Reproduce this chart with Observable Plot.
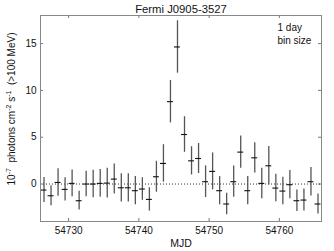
<!DOCTYPE html>
<html>
<head>
<meta charset="utf-8">
<script src="https://cdn.jsdelivr.net/npm/d3@7"></script>
<script src="https://cdn.jsdelivr.net/npm/@observablehq/plot@0.6"></script>
<style>
  html, body { margin: 0; padding: 0; background: #fff; }
  #chart svg { display: block; }
</style>
</head>
<body>
<div id="chart"></div>
<script>
const mjd = [54726.5, 54727.5, 54728.5, 54729.5, 54730.5, 54731.5, 54732.5, 54733.5, 54734.5, 54735.5,
             54736.5, 54737.5, 54738.5, 54739.5, 54740.5, 54741.5, 54742.5, 54743.5, 54744.5, 54745.5,
             54746.5, 54747.5, 54748.5, 54749.5, 54750.5, 54751.5, 54752.5, 54753.5, 54754.5, 54755.5,
             54756.5, 54757.5, 54758.5, 54759.5, 54760.5, 54761.5, 54762.5, 54763.5, 54764.5, 54765.5];
const flux = [-0.64, -1.25, 0.17, -0.57, 0.07, -1.78, 0.0, 0.0, 0.07, 0.1,
              0.53, -0.4, -0.4, -0.71, -0.53, -1.64, 0.78, 2.2, 8.8, 14.64,
              5.29, 2.48, 2.73, 0.25, 1.35, -0.71, -2.13, 0.25, 3.41, -0.71,
              2.8, 0.07, 1.95, -0.43, -0.75, -0.07, -1.78, -1.71, 0.25, -2.13];
const fluxErr = [1.33, 1.07, 1.47, 1.24, 1.42, 1.0, 1.37, 1.47, 1.49, 1.58,
                 1.6, 1.51, 1.51, 1.51, 1.2, 1.24, 1.65, 2.0, 2.27, 2.8,
                 1.9, 1.51, 1.6, 1.69, 1.97, 1.51, 1.15, 1.67, 1.72, 1.51,
                 1.62, 1.63, 2.06, 1.47, 1.47, 1.51, 1.15, 1.17, 1.53, 1.07];
const xTicks = [54730, 54740, 54750, 54760];
const yTicks = [0, 5, 10, 15];
const binHalf = 0.42;

const data = mjd.map((m, i) => ({mjd: m, flux: flux[i], err: fluxErr[i]}));

const W = 334, H = 251, mL = 40, mR = 13, mT = 15, mB = 30;
const frameH = H - mT - mB, frameW = W - mL - mR;
const tk = 3;
const font = "'Liberation Sans', Arial, Helvetica, sans-serif";

const plot = Plot.plot({
  width: W, height: H,
  marginLeft: mL, marginRight: mR, marginTop: mT, marginBottom: mB,
  style: {fontFamily: font, fontSize: "10px", color: "#111", background: "#fff"},
  x: {domain: [54726, 54766], ticks: xTicks, tickFormat: d => String(d)},
  y: {domain: [-4, 18], ticks: yTicks},
  marks: [
    Plot.axisX({ticks: xTicks, tickSize: 0, tickPadding: 5, label: null, tickFormat: d => String(d), fontSize: 10}),
    Plot.axisY({ticks: yTicks, tickSize: 0, tickPadding: 4, label: null, fontSize: 10}),
    // inward ticks on all four sides
    Plot.ruleX(xTicks, {x: d => d, insetTop: frameH - tk, stroke: "#777"}),
    Plot.ruleX(xTicks, {x: d => d, insetBottom: frameH - tk, stroke: "#777"}),
    Plot.ruleY(yTicks, {y: d => d, insetRight: frameW - tk, stroke: "#777"}),
    Plot.ruleY(yTicks, {y: d => d, insetLeft: frameW - tk, stroke: "#777"}),
    Plot.ruleY([0], {stroke: "#333", strokeDasharray: "1,2", strokeWidth: 1}),
    Plot.ruleX(data, {x: "mjd", y1: d => d.flux - d.err, y2: d => d.flux + d.err, stroke: "#555", strokeWidth: 1.3}),
    Plot.ruleY(data, {y: "flux", x1: d => d.mjd - binHalf, x2: d => d.mjd + binHalf, stroke: "#111", strokeWidth: 1.1}),
    Plot.frame({stroke: "#888", strokeWidth: 1}),
    Plot.text(["Fermi J0905-3527"], {frameAnchor: "top", dy: -6.5, lineAnchor: "middle", fontSize: 11.3, fill: "#111"}),
    Plot.text(["MJD"], {frameAnchor: "bottom", dy: 22, lineAnchor: "middle", fontSize: 10.5, fill: "#111"}),
    Plot.text(["1 day\nbin size"], {frameAnchor: "top-right", dx: -44, dy: 7, textAnchor: "start", lineAnchor: "top", lineHeight: 1.25, fontSize: 10, fill: "#111"})
  ]
});

document.getElementById("chart").appendChild(plot);

// y-axis label with superscripts
const svg = d3.select(plot);
const yl = svg.append("text")
  .attr("transform", "translate(15,109) rotate(-90)")
  .attr("text-anchor", "middle")
  .attr("font-family", font)
  .attr("font-size", 10)
  .attr("fill", "#111");
yl.append("tspan").text("10");
yl.append("tspan").attr("dy", -4).attr("font-size", 7).text("-7");
yl.append("tspan").attr("dy", 4).text("\u00a0 photons cm");
yl.append("tspan").attr("dy", -4).attr("font-size", 7).text("-2");
yl.append("tspan").attr("dy", 4).text(" s");
yl.append("tspan").attr("dy", -4).attr("font-size", 7).text("-1");
yl.append("tspan").attr("dy", 4).text("\u00a0 (>100 MeV)");
</script>
</body>
</html>
